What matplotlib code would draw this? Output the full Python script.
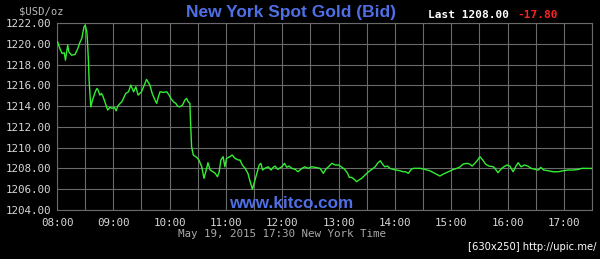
import matplotlib
matplotlib.use("Agg")
import matplotlib.pyplot as plt
from matplotlib.ticker import MultipleLocator, FuncFormatter

# Time in decimal hours (New York time), bid price in USD/oz
hours = [8.01, 8.05, 8.09, 8.13, 8.15, 8.19, 8.21, 8.26, 8.32, 8.37, 8.41, 8.44, 8.48, 8.50,
         8.53, 8.54, 8.56, 8.57, 8.60, 8.63, 8.68, 8.71, 8.73, 8.76, 8.79, 8.82, 8.85, 8.90,
         8.94, 8.98, 9.02, 9.05, 9.08, 9.12, 9.15, 9.18, 9.22, 9.27, 9.31, 9.36, 9.40, 9.44,
         9.50, 9.55, 9.59, 9.65, 9.69, 9.74, 9.77, 9.80, 9.83, 9.89, 9.95, 9.99, 10.02, 10.07,
         10.11, 10.14, 10.18, 10.23, 10.27, 10.30, 10.33, 10.36, 10.37, 10.39, 10.42, 10.48,
         10.52, 10.57, 10.61, 10.65, 10.68, 10.72, 10.77, 10.81, 10.85, 10.88, 10.91, 10.95,
         10.98, 11.01, 11.07, 11.11, 11.16, 11.22, 11.25, 11.29, 11.34, 11.39, 11.43, 11.47,
         11.50, 11.55, 11.59, 11.62, 11.65, 11.69, 11.75, 11.80, 11.84, 11.87, 11.92, 11.99,
         12.04, 12.08, 12.12, 12.17, 12.23, 12.28, 12.35, 12.40, 12.46, 12.52, 12.58, 12.67,
         12.73, 12.77, 12.82, 12.88, 12.94, 13.00, 13.06, 13.11, 13.16, 13.19, 13.23, 13.28,
         13.32, 13.36, 13.41, 13.47, 13.53, 13.59, 13.65, 13.69, 13.74, 13.78, 13.82, 13.87,
         13.91, 13.97, 14.03, 14.09, 14.15, 14.19, 14.24, 14.29, 14.33, 14.39, 14.45, 14.53,
         14.62, 14.71, 14.80, 14.86, 14.95, 15.04, 15.10, 15.16, 15.21, 15.28, 15.33, 15.37,
         15.42, 15.47, 15.51, 15.56, 15.61, 15.67, 15.75, 15.79, 15.83, 15.87, 15.92, 15.99,
         16.04, 16.10, 16.15, 16.19, 16.24, 16.30, 16.36, 16.42, 16.49, 16.55, 16.59, 16.64,
         16.72, 16.81, 16.90, 16.99, 17.08, 17.17, 17.26, 17.32, 17.41, 17.49]
prices = [1220.18, 1219.55, 1219.07, 1219.13, 1218.42, 1219.87, 1219.22, 1218.90, 1218.97,
          1219.55, 1220.18, 1220.51, 1221.63, 1221.79, 1221.14, 1220.35, 1218.11, 1216.50,
          1213.93, 1214.58, 1215.38, 1215.70, 1215.54, 1215.06, 1215.22, 1214.89, 1214.41,
          1213.62, 1213.88, 1213.78, 1213.88, 1213.55, 1214.00, 1214.26, 1214.41, 1214.74,
          1215.22, 1215.38, 1216.02, 1215.38, 1215.86, 1215.06, 1215.38, 1216.02, 1216.57,
          1216.02, 1215.22, 1214.58, 1214.26, 1214.89, 1215.38, 1215.32, 1215.38, 1215.06,
          1214.74, 1214.41, 1214.26, 1214.00, 1213.93, 1214.10, 1214.58, 1214.74, 1214.41,
          1214.26, 1212.65, 1210.09, 1209.29, 1209.07, 1208.81, 1208.16, 1207.05, 1207.85,
          1208.55, 1207.85, 1207.68, 1207.53, 1207.20, 1207.68, 1208.81, 1209.13, 1208.16,
          1208.97, 1209.13, 1209.29, 1208.97, 1208.81, 1208.81, 1208.33, 1208.01, 1207.53,
          1206.72, 1205.99, 1206.57, 1207.53, 1208.33, 1208.49, 1207.85, 1208.01, 1208.16,
          1207.85, 1208.11, 1208.23, 1207.91, 1208.16, 1208.49, 1208.11, 1208.23, 1208.01,
          1207.91, 1207.68, 1208.01, 1208.16, 1208.01, 1208.16, 1208.11, 1208.01, 1207.53,
          1207.91, 1208.16, 1208.49, 1208.33, 1208.33, 1208.11, 1207.91, 1207.53, 1207.14,
          1207.14, 1206.95, 1206.72, 1206.88, 1207.05, 1207.37, 1207.68, 1207.91, 1208.16,
          1208.49, 1208.74, 1208.42, 1208.16, 1208.23, 1208.01, 1207.91, 1207.85, 1207.78,
          1207.68, 1207.68, 1207.53, 1207.91, 1208.01, 1208.01, 1208.01, 1207.91, 1207.78,
          1207.53, 1207.27, 1207.46, 1207.68, 1207.91, 1208.01, 1208.16, 1208.42, 1208.49,
          1208.42, 1208.23, 1208.49, 1208.81, 1209.13, 1208.81, 1208.42, 1208.23, 1208.16,
          1207.91, 1207.59, 1207.85, 1208.11, 1208.33, 1208.23, 1207.68, 1208.23, 1208.55,
          1208.16, 1208.33, 1208.23, 1208.01, 1207.91, 1207.85, 1208.11, 1207.85, 1207.78,
          1207.68, 1207.68, 1207.78, 1207.85, 1207.85, 1207.91, 1208.01, 1208.01, 1208.00]

x_tick_hours = [8, 9, 10, 11, 12, 13, 14, 15, 16, 17]
x_tick_labels = ["08:00", "09:00", "10:00", "11:00", "12:00", "13:00", "14:00",
                 "15:00", "16:00", "17:00"]
title = "New York Spot Gold (Bid)"
last_text = "Last 1208.00"
change_text = "-17.80"
unit_text = "$USD/oz"
date_text = "May 19, 2015 17:30 New York Time"
site_text = "www.kitco.com"
stamp_text = "[630x250] http://upic.me/"

W, H = 600, 259
fig = plt.figure(figsize=(W / 100, H / 100), dpi=100, facecolor="black")
ax = fig.add_axes([57 / W, 1 - 210 / H, (592 - 57) / W, (210 - 23) / H], facecolor="black")

grid_c = "#6a6a6a"
ax.plot(hours, prices, color="#33ee33", lw=1.0, zorder=3)
ax.set_xlim(8, 17.5)
ax.set_ylim(1204, 1222)
ax.yaxis.set_major_locator(MultipleLocator(2))
ax.grid(True, color=grid_c, lw=0.8)
ax.set_xticks(x_tick_hours, x_tick_labels)
ax.set_xticks([h + 0.5 for h in x_tick_hours], minor=True)
ax.grid(True, which="minor", axis="x", color=grid_c, lw=0.8)
ax.yaxis.set_major_formatter(FuncFormatter(lambda v, p: f"{v:.2f}"))
ax.tick_params(length=0, which="both", colors="#d8d8d8", labelsize=7.8, pad=4)
ax.tick_params(axis="x", pad=6)
for lab in ax.get_xticklabels() + ax.get_yticklabels():
    lab.set_family("DejaVu Sans Mono")
for s in ax.spines.values():
    s.set_color(grid_c)
    s.set_linewidth(0.8)

blue = "#4f6fe6"
fig.text(291 / W, 1 - 12 / H, title, color=blue, fontsize=12.5, fontweight="bold",
         family="Liberation Sans", ha="center", va="center")
fig.text(428 / W, 1 - 15.5 / H, last_text, color="white", fontsize=8, fontweight="bold",
         family="DejaVu Sans Mono", ha="left", va="center")
fig.text(517 / W, 1 - 15.5 / H, change_text, color="#ff2222", fontsize=8, fontweight="bold",
         family="DejaVu Sans Mono", ha="left", va="center")
fig.text(19 / W, 1 - 11 / H, unit_text, color="#bbbbbb", fontsize=7.6,
         family="DejaVu Sans Mono", ha="left", va="center")
fig.text(291 / W, 1 - 203 / H, site_text, color=blue, fontsize=12.3, fontweight="bold",
         family="Liberation Sans", ha="center", va="center", zorder=5)
fig.text(282 / W, 1 - 234 / H, date_text, color="#aaaaaa", fontsize=7.8,
         family="DejaVu Sans Mono", ha="center", va="center")
fig.text(597 / W, 1 - 247 / H, stamp_text, color="white", fontsize=8,
         family="DejaVu Sans", ha="right", va="center", fontstretch="condensed")

fig.savefig("out.png", dpi=100, facecolor="black")
